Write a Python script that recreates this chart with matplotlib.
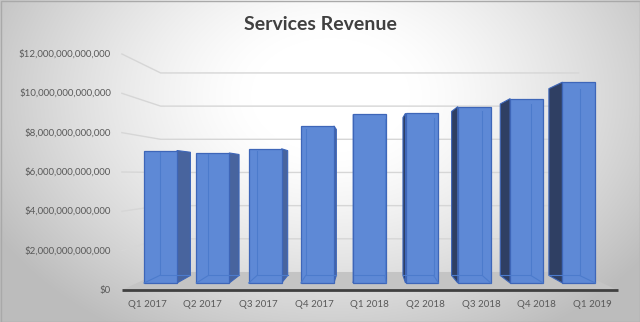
import numpy as np
import matplotlib
matplotlib.use("Agg")
import matplotlib.pyplot as plt
from matplotlib.patches import Polygon, Rectangle

# ---- data -------------------------------------------------------------
quarters = ["Q1 2017", "Q2 2017", "Q3 2017", "Q4 2017", "Q1 2018",
            "Q2 2018", "Q3 2018", "Q4 2018", "Q1 2019"]
revenue = [7172e9, 7041e9, 7266e9, 8501e9, 9129e9,
           9190e9, 9548e9, 9981e9, 10875e9]
y_ticks = [0, 2e12, 4e12, 6e12, 8e12, 10e12, 12e12]
title = "Services Revenue"

# ---- layout (pixels of a 640x322 canvas) ------------------------------
W, H = 640, 322
PX_X0, PX_DX = 160.5, 52.3          # pixel x of first category, spacing
PX_Y0, PX_PER_UNIT = 283.0, 18.47   # pixel y of zero, pixels per 1e12
UNIT = 1e12
VP_PX = (369.0, 175.0)               # vanishing point

S_EDGE, S_BACK_BAR, S_WALL = 1.065, 0.93, 0.898
X_LEFT, X_RIGHT = -0.45, 8.45
BAR_W = 0.63

plt.rcParams["font.family"] = ["Lato", "DejaVu Sans"]

fig = plt.figure(figsize=(W / 100, H / 100), dpi=100)

# background: soft radial gradient
bg = fig.add_axes([0, 0, 1, 1])
yy, xx = np.mgrid[0:H, 0:W]
r = np.sqrt(((xx - 330) / 360.0) ** 2 + ((yy - 95) / 260.0) ** 2)
t = np.clip((r - 0.22) / 0.85, 0, 1) ** 1.3
shade = 1.0 - t * (1.0 - 0.74)
bg.imshow(np.dstack([shade] * 3), extent=(0, W, H, 0), aspect="auto",
          interpolation="bilinear")
bg.set_xlim(0, W)
bg.set_ylim(H, 0)
bg.axis("off")
bg.add_patch(Rectangle((0.5, 0.5), W - 1, H - 1, fill=False,
                       edgecolor="#a9a9a9", lw=1))

# main axes in category / dollar units
ax = fig.add_axes([0, 0, 1, 1])
ax.set_facecolor("none")
ax.set_xlim(-PX_X0 / PX_DX, (W - PX_X0) / PX_DX)
ax.set_ylim(-(H - PX_Y0) / PX_PER_UNIT * UNIT, PX_Y0 / PX_PER_UNIT * UNIT)
ax.axis("off")

vx = (VP_PX[0] - PX_X0) / PX_DX
vy = (PX_Y0 - VP_PX[1]) / PX_PER_UNIT * UNIT


def proj(x, y, s):
    return vx + (x - vx) * s, vy + (y - vy) * s


# floor
floor = [proj(X_LEFT, 0, S_EDGE), proj(X_RIGHT, 0, S_EDGE),
         proj(X_RIGHT, 0, S_WALL), proj(X_LEFT, 0, S_WALL)]
ax.add_patch(Polygon(floor, closed=True, facecolor="#c4c4c4",
                     edgecolor="none", zorder=1))
fx0, fy0 = proj(X_LEFT, 0, S_EDGE)
fx1, _ = proj(X_RIGHT, 0, S_EDGE)
ax.plot([fx0, fx1], [fy0, fy0], color="#404040", lw=2.0,
        solid_capstyle="butt", zorder=6)

# gridlines on the side and back walls
for v in y_ticks[1:]:
    p0 = proj(X_LEFT, v, S_EDGE)
    p1 = proj(X_LEFT, v, S_WALL)
    p2 = proj(X_RIGHT, v, S_WALL)
    ax.plot([p0[0], p1[0], p2[0]], [p0[1], p1[1], p2[1]],
            color="#d6d6d6", lw=1.0, zorder=2)

# value labels along the front edge
for v in y_ticks:
    lx, ly = proj(X_LEFT, v, S_EDGE)
    ax.annotate("${:,.0f}".format(v), (lx, ly), xytext=(-11, 0),
                textcoords="offset pixels", ha="right", va="center",
                fontsize=7, color="#595959", zorder=7)

# category labels along the front edge
idx = np.arange(len(quarters))
for i, q in enumerate(quarters):
    lx, ly = proj(i, 0, S_EDGE)
    ax.annotate(q, (lx, ly), xytext=(0, -14), textcoords="offset pixels",
                ha="center", va="center", fontsize=7, color="#595959",
                zorder=7)

# bar side faces and hidden back edges
FRONT = "#5e89d6"
EDGE = "#3e66b8"
for i, v in enumerate(revenue):
    xl, xr = i - BAR_W / 2, i + BAR_W / 2
    if i < vx:
        xs, col, xh = xr, "#48649e", xl
    else:
        xs, col, xh = xl, "#2f3f63", xr
    side = [proj(xs, 0, 1.0), proj(xs, v, 1.0),
            proj(xs, v, S_BACK_BAR), proj(xs, 0, S_BACK_BAR)]
    ax.add_patch(Polygon(side, closed=True, facecolor=col,
                         edgecolor=EDGE, lw=0.8, zorder=3))
    # edges seen through the translucent front face
    bh = proj(xh, 0, S_BACK_BAR)
    bht = proj(xh, v, S_BACK_BAR)
    bs = proj(xs, 0, S_BACK_BAR)
    fh = proj(xh, 0, 1.0)
    ax.plot([bht[0], bh[0], bs[0]], [bht[1], bh[1], bs[1]],
            color="#4c7bcc", lw=0.8, zorder=5)
    ax.plot([fh[0], bh[0]], [fh[1], bh[1]], color="#4c7bcc", lw=0.8,
            zorder=5)

ax.bar(idx, revenue, width=BAR_W, color=FRONT, edgecolor=EDGE, lw=0.9,
       zorder=4)

fig.text(0.5, 1 - 24 / H, title, ha="center", va="center", fontsize=14,
         fontweight="bold", color="#404040")

fig.savefig("out.png", dpi=100)
